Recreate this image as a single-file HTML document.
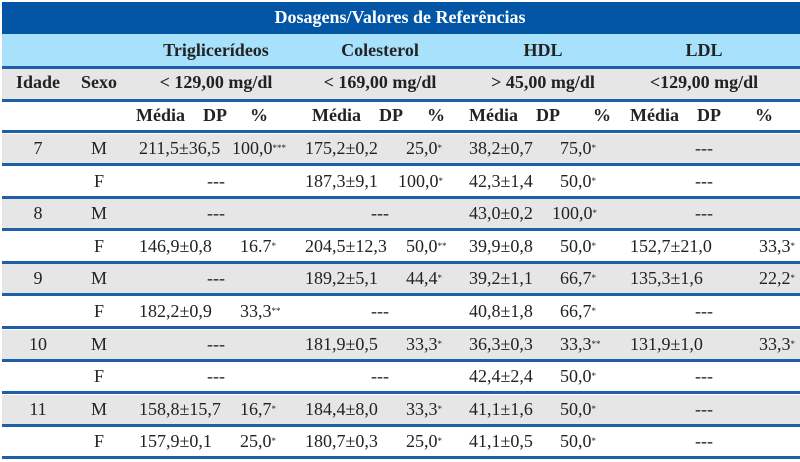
<!DOCTYPE html>
<html><head><meta charset="utf-8"><style>
body{margin:0;width:800px;height:462px;background:#fff;overflow:hidden;font-family:"Liberation Serif",serif;font-size:18px;line-height:20px;color:#222}
.a{position:absolute;white-space:nowrap}
.b{font-weight:bold}
.line{position:absolute;left:2px;width:798px;height:3px;background:#1f5ea8}
.band{position:absolute;left:2px;width:798px}
sup{font-size:9px;vertical-align:3px}
</style></head><body>
<div id="t">
<div class="band" style="top:2px;height:32px;background:#0356a6"></div>
<div class="a b" style="left:0;width:800px;text-align:center;top:7px;color:#fff">Dosagens/Valores de Referências</div>
<div class="band" style="top:34px;height:32px;background:#a8e1fb"></div>
<div class="line" style="top:66px"></div>
<div class="band" style="top:69px;height:30px;background:#e6e6e6"></div>
<div class="line" style="top:99px"></div>
<div class="line" style="top:130px"></div>
</div>
<script>
const groups=["Triglicerídeos","Colesterol","HDL","LDL"];
const refs=["< 129,00 mg/dl","< 169,00 mg/dl","> 45,00 mg/dl","<129,00 mg/dl"];
const idades=["7","","8","","9","","10","","11",""];
const sexos=["M","F","M","F","M","F","M","F","M","F"];
const trig=[["211,5±36,5","100,0","***"],null,null,["146,9±0,8","16.7","*"],null,["182,2±0,9","33,3","**"],null,null,["158,8±15,7","16,7","*"],["157,9±0,1","25,0","*"]];
const col=[["175,2±0,2","25,0","*"],["187,3±9,1","100,0","*"],null,["204,5±12,3","50,0","**"],["189,2±5,1","44,4","*"],null,["181,9±0,5","33,3","*"],null,["184,4±8,0","33,3","*"],["180,7±0,3","25,0","*"]];
const hdl=[["38,2±0,7","75,0","*"],["42,3±1,4","50,0","*"],["43,0±0,2","100,0","*"],["39,9±0,8","50,0","*"],["39,2±1,1","66,7","*"],["40,8±1,8","66,7","*"],["36,3±0,3","33,3","**"],["42,4±2,4","50,0","*"],["41,1±1,6","50,0","*"],["41,1±0,5","50,0","*"]];
const ldl=[null,null,null,["152,7±21,0","33,3","*"],["135,3±1,6","22,2","*"],null,["131,9±1,0","33,3","*"],null,null,null];
const T=document.getElementById('t');
function txt(x,y,s,cls,align,name,w){const d=document.createElement('div');d.className='a '+(cls||'');d.innerHTML=s;


if(align==='c'){d.style.left=(x-(w||100)/2)+'px';d.style.width=(w||100)+'px';d.style.textAlign='center';}
else d.style.left=x+'px';
d.style.top=y+'px';T.appendChild(d);}
const gc=[216,380,543,704];
groups.forEach((g,i)=>{txt(gc[i],40,g,'b','c','group-header',180);txt(gc[i],72,refs[i],'b','c','reference-value',180);});
txt(38,72,'Idade','b','c','idade-header');txt(99,72,'Sexo','b','c','sexo-header');
const mx=[136,312,469,630],dx=[203,379,536,697],px=[250,427,593,755];
for(let i=0;i<4;i++){txt(mx[i],105,'Média','b','','media-header');txt(dx[i],105,'DP','b','','dp-header');txt(px[i],105,'%','b','','percent-header');}
const cols=[trig,col,hdl,ldl];
const meanX=[139,305,469,630],pctX=[240,406,560,759],dash=[216,380,543,704];
for(let r=0;r<10;r++){
 const top=132+r*32.6;
 if(r%2===0){const b=document.createElement('div');b.className='band';b.style.top=(top+2)+'px';b.style.height='30px';b.style.background='#e6e6e6';
 
 
 T.appendChild(b);}
 const l=document.createElement('div');l.className='line';l.style.top=(top+31)+'px';
 
 
 T.appendChild(l);
 const y=top+6;
 if(idades[r])txt(38,y,idades[r],'','c','idade-cell');
 txt(99,y,sexos[r],'','c','sexo-cell');
 cols.forEach((c,k)=>{const v=c[r];
  if(!v){txt(dash[k],y,'---','','c','empty-cell');return;}
  txt(meanX[k],y,v[0],'','','mean-cell');
  txt(pctX[k]-(v[1].length>4?8:0),y,v[1]+'<sup>'+v[2]+'</sup>','','','percent-cell');
 });
}
</script>
</body></html>
